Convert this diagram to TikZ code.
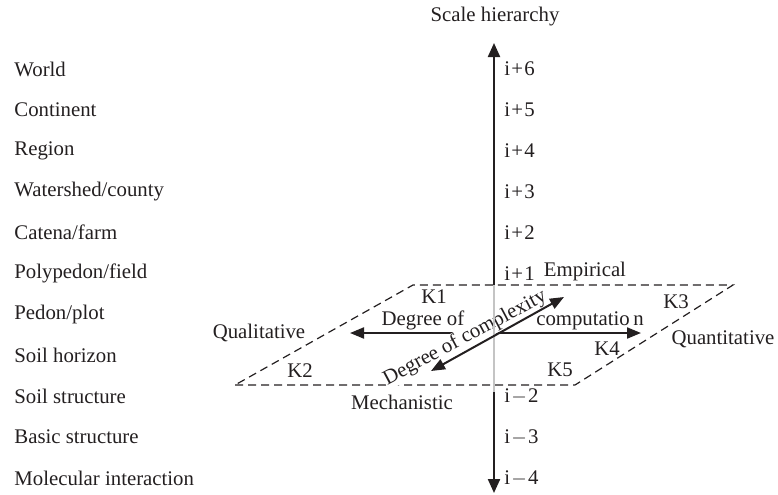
\documentclass[tikz,border=0pt]{standalone}
\usepackage{fontspec}
\setmainfont{Liberation Serif}
\usepackage{xcolor}
\usepackage{tikz}
\usetikzlibrary{positioning, arrows.meta}
\definecolor{ink}{HTML}{231F20}
\definecolor{axisgray}{HTML}{C4C4C4}

\begin{document}
\begin{tikzpicture}[x=0.5pt, y=-0.5pt,
    every node/.style={text=ink, font=\fontsize{10.4}{12}\selectfont},
    lbl/.style={anchor=west, inner sep=0pt},
    plane/.style={dashed, dash pattern=on 4pt off 2.5pt, ink, line width=0.6pt},
    scaleaxis/.style={ink, line width=1.1pt},
    dirarrow/.style={ink, line width=1pt, -{Triangle[length=7pt, width=5.5pt]}}]
  \useasboundingbox (0,0) rectangle (778,494);

  % scale levels on the left
  \foreach \txt [count=\n from 0] in {World, Continent, Region, Watershed/county,
      Catena/farm, Polypedon/field, Pedon/plot, Soil horizon, Soil structure,
      Basic structure, Molecular interaction}
    \node[lbl] (lvl\n) at (14, 69+40.9*\n) {\txt};

  % index labels along the axis
  \foreach \k [count=\n from 0] in {6,5,4,3,2,1}
    \node[lbl] (up\k) at (504, 69+40.9*\n) {i\kern0.6pt+\kern0.6pt\k};
  \foreach \k [count=\n from 8] in {2,3,4}
    \node[lbl] (dn\k) at (504, 69+40.9*\n) {i\kern0.6pt$-$\kern0.6pt\k};

  \node (title) at (495,17) {Scale hierarchy};
  \node (empir) at (585,271) {Empirical};
  \node (mech) at (402,402) {Mechanistic};
  \node (qual) at (259,333) {Qualitative};
  \node (quant) at (723,339) {Quantitative};

  % the plane
  \coordinate (pbl) at (235,385);
  \coordinate (pbr) at (575,385);
  \coordinate (ptr) at (733,285);
  \coordinate (ptl) at (413,285);
  \draw[plane] (pbl) -- (pbr) -- (ptr) -- (ptl) -- cycle;

  \node (k1) at (434,297) {K1};
  \node (k2) at (300,371) {K2};
  \node (k3) at (676,302) {K3};
  \node (k4) at (607,349) {K4};
  \node (k5) at (560,370) {K5};
  \node (degof) at (423,320) {Degree of};
  \node (comp) at (590,321) {computatio\,n};

  % directions in the plane
  \coordinate (o) at (494,333);
  \coordinate (west) at (350,333);
  \coordinate (east) at (641,333);
  \coordinate (ne) at (564,297);
  \coordinate (sw) at (431,371);
  \draw[dirarrow] (o) -- (west);
  \draw[dirarrow] (o) -- (east);
  \node[rotate=28, fill=white, inner sep=0.5pt] (cplx) at (465,338) {Degree of complexity};

  % scale axis
  \coordinate (atop) at (494,43);
  \coordinate (abot) at (494,493);
  \coordinate (pin) at (494,285);
  \coordinate (pout) at (494,392);
  \draw[scaleaxis, {Triangle[length=7pt, width=6pt]}-] (atop) -- (pin);
  \draw[axisgray, line width=1.1pt] (pin) -- (pout);
  \draw[scaleaxis, -{Triangle[length=7pt, width=6pt]}] (pout) -- (abot);

  \draw[dirarrow, {Triangle[length=7pt, width=5.5pt]}-{Triangle[length=7pt, width=5.5pt]}] (sw) -- (ne);
\end{tikzpicture}
\end{document}
